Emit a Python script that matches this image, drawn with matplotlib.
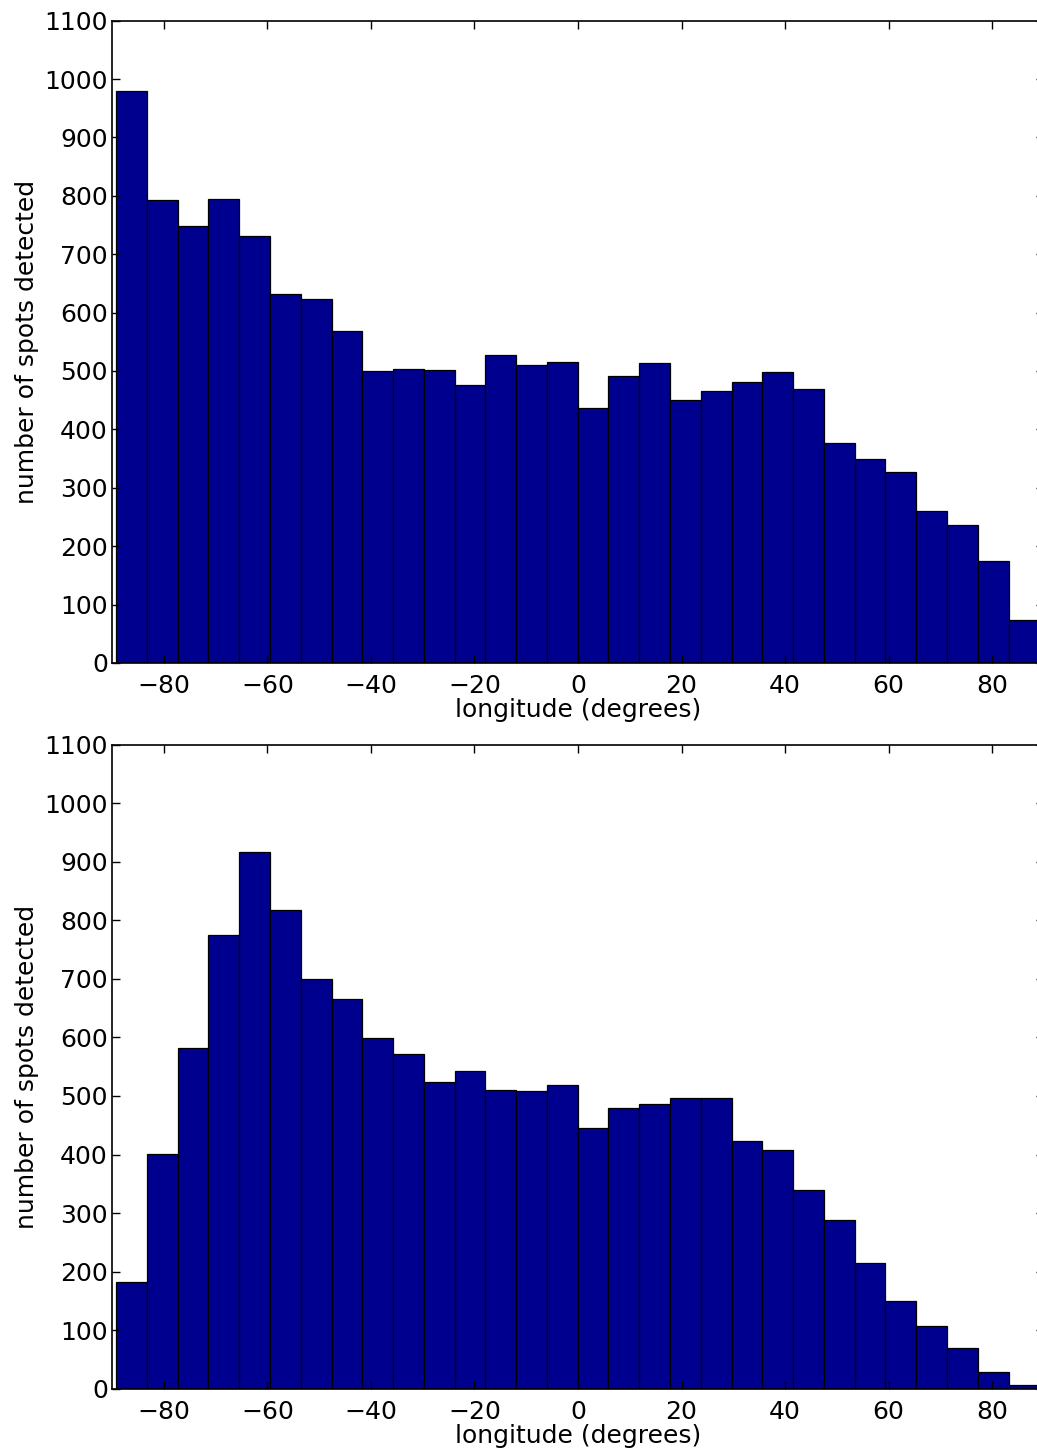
import numpy as np
import matplotlib
matplotlib.use("Agg")
import matplotlib.pyplot as plt

# Histogram bin range (degrees) and number of bins
lon_min, lon_max = -89.2, 89.1
n_bins = 30

# Spot counts per longitude bin, upper panel
counts_top = [979, 793, 748, 795, 731, 631, 624, 569, 500, 504,
              502, 476, 528, 511, 515, 436, 492, 513, 450, 466,
              481, 498, 470, 377, 349, 327, 260, 236, 174, 73]

# Spot counts per longitude bin, lower panel
counts_bottom = [183, 401, 582, 775, 916, 818, 700, 665, 599, 572,
                 524, 542, 510, 509, 519, 445, 479, 487, 497, 497,
                 423, 407, 340, 288, 215, 149, 107, 69, 28, 6]

x_ticks = [-80, -60, -40, -20, 0, 20, 40, 60, 80]
y_ticks = list(range(0, 1101, 100))

x_label = "longitude (degrees)"
y_label = "number of spots detected"

bar_color = "#00008F"

plt.rcParams["font.family"] = ["DejaVu Sans"]
fig = plt.figure(figsize=(10.37, 14.52), dpi=100)

edges = np.linspace(lon_min, lon_max, n_bins + 1)
widths = np.diff(edges)

axes_rects = [
    [0.1080, 0.5434, 0.8987, 0.4424],
    [0.1080, 0.0436, 0.8987, 0.4435],
]

for rect, counts in zip(axes_rects, [counts_top, counts_bottom]):
    ax = fig.add_axes(rect)
    ax.bar(edges[:-1], counts, width=widths, align="edge",
           color=bar_color, edgecolor="black", linewidth=0.9)
    ax.set_xlim(-90, 90)
    ax.set_ylim(0, 1100)
    ax.set_xticks(x_ticks)
    ax.set_yticks(y_ticks)
    ax.tick_params(direction="in", top=True, right=True, length=6,
                   width=1, labelsize=18, colors="black")
    ax.tick_params(axis="x", pad=8)
    ax.tick_params(axis="y", pad=3)
    for s in ax.spines.values():
        s.set_linewidth(1.2)
    ax.set_xlabel(x_label, fontsize=18, labelpad=0)
    ax.set_ylabel(y_label, fontsize=18, labelpad=4)

fig.savefig("out.png", dpi=100)
